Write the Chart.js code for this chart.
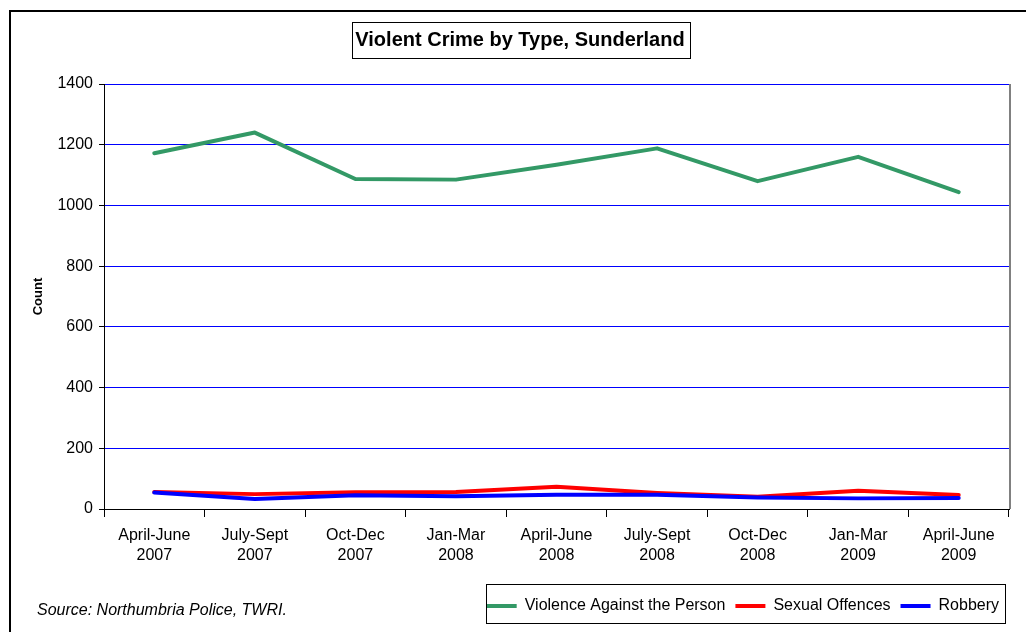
<!DOCTYPE html>
<html>
<head>
<meta charset="utf-8">
<script src="https://cdn.jsdelivr.net/npm/chart.js@4"></script>
<style>
  html, body { margin: 0; padding: 0; background: #fff; overflow: hidden; }
  #wrap { position: relative; width: 1026px; height: 632px; }
  #frame { position: absolute; left: 9px; top: 10px; width: 1040px; height: 650px;
           border: 2px solid #000; box-sizing: border-box; pointer-events: none; }
  #source { position: absolute; left: 37px; top: 601px; font: italic 16px "Liberation Sans", Arial, sans-serif; color: #000; }
  canvas { position: absolute; left: 0; top: 0; }
</style>
</head>
<body>
<div id="wrap">
  <canvas id="chart" width="1026" height="632"></canvas>
  <div id="frame"></div>
  <div id="source">Source: Northumbria Police, TWRI.</div>
</div>
<script>
// ── Data ─────────────────────────────────────────────────────────────────
const periods = [
  ['April-June', '2007'], ['July-Sept', '2007'], ['Oct-Dec', '2007'],
  ['Jan-Mar', '2008'], ['April-June', '2008'], ['July-Sept', '2008'],
  ['Oct-Dec', '2008'], ['Jan-Mar', '2009'], ['April-June', '2009']
];
const violenceAgainstPerson = [1172, 1240, 1087, 1085, 1134, 1188, 1080, 1160, 1044];
const sexualOffences        = [56, 49, 55, 56, 73, 53, 40, 60, 46];
const robbery               = [54, 33, 45, 42, 47, 47, 38, 35, 36];
const yTicks = [0, 200, 400, 600, 800, 1000, 1200, 1400];

const FONT = '"Liberation Sans", Arial, sans-serif';

// boxes round the title and the legend, plus the grey right edge of the plot
const boxPlugin = {
  id: 'boxes',
  afterDraw(chart) {
    const c = chart.ctx;
    const a = chart.chartArea;
    c.save();
    c.strokeStyle = '#808080';
    c.lineWidth = 2;
    c.beginPath();
    c.moveTo(a.right + 1, a.top);
    c.lineTo(a.right + 1, a.bottom);
    c.stroke();

    // title box
    const t = chart.titleBlock;
    if (t) {
      c.font = 'bold 20px ' + FONT;
      const w = c.measureText(chart.options.plugins.title.text).width;
      const cx = (t.left + t.right) / 2;
      c.strokeStyle = '#000';
      c.lineWidth = 1;
      c.strokeRect(Math.round(cx - w / 2 - 3) + 0.5, 22.5, Math.round(w + 9), 36);
    }

    // legend box
    const items = chart.legend && chart.legend.legendHitBoxes;
    if (items && items.length) {
      const l = Math.min(...items.map(h => h.left)) - 1;
      const r = Math.max(...items.map(h => h.left + h.width)) + 6;
      c.strokeStyle = '#000';
      c.lineWidth = 1;
      c.strokeRect(Math.round(l) + 0.5, 584.5, Math.round(r - l), 39);
    }
    c.restore();
  }
};

new Chart(document.getElementById('chart'), {
  type: 'line',
  data: {
    labels: periods,
    datasets: [
      { label: 'Violence Against the Person', data: violenceAgainstPerson,
        borderColor: '#339966', backgroundColor: '#339966', borderWidth: 4, order: 2 },
      { label: 'Sexual Offences', data: sexualOffences,
        borderColor: '#ff0000', backgroundColor: '#ff0000', borderWidth: 4, order: 1 },
      { label: 'Robbery', data: robbery,
        borderColor: '#0000ff', backgroundColor: '#0000ff', borderWidth: 4, order: 0 },
    ]
  },
  options: {
    responsive: false, animation: false,
    elements: { point: { radius: 0 }, line: { tension: 0, borderCapStyle: 'round', borderJoinStyle: 'round' } },
    layout: { padding: { left: 31, right: 17, top: 0, bottom: 8 } },
    plugins: {
      title: { display: true, text: 'Violent Crime by Type, Sunderland', color: '#000',
               font: { family: FONT, size: 20, weight: 'bold' }, padding: { top: 28, bottom: 32 } },
      legend: { position: 'bottom', align: 'end',
                labels: { color: '#000', font: { family: FONT, size: 16 }, usePointStyle: true,
                          pointStyle: 'line', pointStyleWidth: 30, boxWidth: 30, boxHeight: 16, padding: 10,
                          sort: (a, b) => a.datasetIndex - b.datasetIndex } },
      tooltip: { enabled: false }
    },
    scales: {
      x: {
        offset: true,
        afterFit: s => { s.height = 79; },
        grid: { offset: true, drawOnChartArea: false, color: '#000', tickLength: 8 },
        border: { color: '#000', width: 1 },
        ticks: { color: '#000', font: { family: FONT, size: 16, lineHeight: 1.25 }, maxRotation: 0, padding: 9 }
      },
      y: {
        min: 0, max: 1400,
        afterBuildTicks: s => { s.ticks = yTicks.map(v => ({ value: v })); },
        afterFit: s => { s.width = 73; },
        grid: { color: '#0000ff', tickColor: '#000', tickLength: 5 },
        border: { color: '#000', width: 1 },
        title: { display: true, text: 'Count', color: '#000', font: { family: FONT, size: 13, weight: 'bold' }, padding: 0 },
        ticks: { color: '#000', font: { family: FONT, size: 16 }, padding: 6, callback: v => v }
      }
    }
  },
  plugins: [boxPlugin]
});
</script>
</body>
</html>
